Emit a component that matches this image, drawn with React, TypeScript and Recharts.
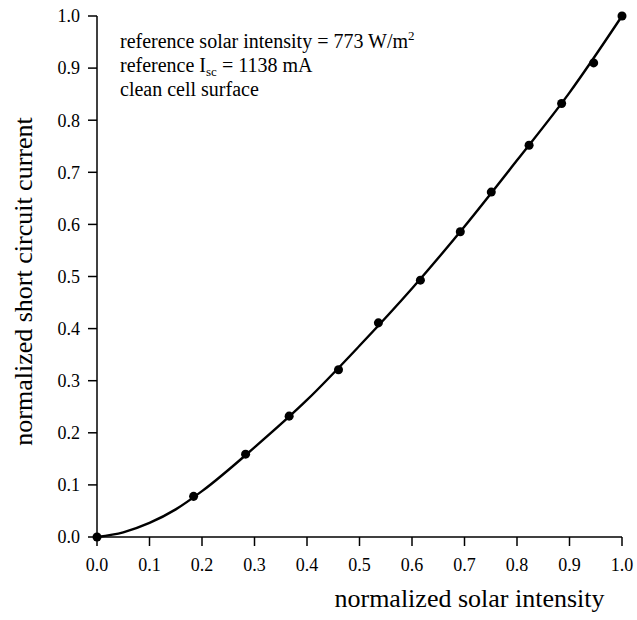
import { ComposedChart, Line, Scatter, XAxis, YAxis, Label } from 'recharts';

// measured points (normalized intensity vs normalized Isc)
const intensity = [0, 0.184, 0.283, 0.366, 0.46, 0.536, 0.616, 0.692, 0.751, 0.823, 0.885, 0.946, 1.0];
const current = [0, 0.078, 0.159, 0.232, 0.321, 0.411, 0.493, 0.586, 0.662, 0.752, 0.832, 0.91, 1.0];

// fitted curve
const fitX = [0, 0.05, 0.1, 0.15, 0.2, 0.3, 0.4, 0.5, 0.6, 0.7, 0.8, 0.9, 1.0];
const fitY = [0, 0.009, 0.027, 0.053, 0.088, 0.172, 0.263, 0.367, 0.477, 0.596, 0.723, 0.853, 1.0];

const ticks = [0, 0.1, 0.2, 0.3, 0.4, 0.5, 0.6, 0.7, 0.8, 0.9, 1.0];

const points = intensity.map((x, i) => ({ x, y: current[i] }));
const fit = fitX.map((x, i) => ({ x, y: fitY[i] }));

const FONT = '"Liberation Serif", "Times New Roman", serif';
const fmt = (v: number) => v.toFixed(1);

export default function App() {
  return (
    <div style={{ position: 'absolute', left: 0, top: 0, width: 637, height: 620, background: '#fff' }}>
      <ComposedChart width={637} height={620} margin={{ top: 16, right: 15, bottom: 0, left: 0 }}>
        <XAxis
          type="number"
          dataKey="x"
          domain={[0, 1]}
          ticks={ticks}
          tickFormatter={fmt}
          height={83}
          stroke="#000"
          strokeWidth={1.5}
          tickSize={9}
          tickMargin={12}
          tick={{ fill: '#000', fontSize: 18, fontFamily: FONT }}
        >
          <Label
            content={({ viewBox }: any) => (
              <text x={viewBox.x + viewBox.width / 2 + 110} y={607} textAnchor="middle"
                fontSize={26} fontFamily={FONT} fill="#000">
                normalized solar intensity
              </text>
            )}
          />
        </XAxis>
        <YAxis
          type="number"
          dataKey="y"
          domain={[0, 1]}
          ticks={ticks}
          tickFormatter={fmt}
          width={97}
          stroke="#000"
          strokeWidth={1.5}
          tickSize={9}
          tickMargin={8}
          tick={{ fill: '#000', fontSize: 18, fontFamily: FONT }}
        >
          <Label
            content={({ viewBox }: any) => {
              const cy = viewBox.y + viewBox.height / 2 + 5;
              return (
                <text x={32} y={cy} transform={`rotate(-90, 32, ${cy})`} textAnchor="middle"
                  fontSize={26} fontFamily={FONT} fill="#000">
                  normalized short circuit current
                </text>
              );
            }}
          />
        </YAxis>
        <Line data={fit} dataKey="y" type="monotone" stroke="#000" strokeWidth={2.4}
          dot={false} activeDot={false} isAnimationActive={false} />
        <Scatter data={points} dataKey="y" fill="#000" shape="circle" isAnimationActive={false} />
      </ComposedChart>
      <svg width={637} height={120} style={{ position: 'absolute', left: 0, top: 0, pointerEvents: 'none' }}>
        <g fontFamily={FONT} fontSize={20} fill="#000">
          <text x={120} y={48}>
            reference solar intensity = 773 W/m<tspan dy={-8} fontSize={13}>2</tspan>
          </text>
          <text x={120} y={72}>
            reference I<tspan dy={4} fontSize={13}>sc</tspan><tspan dy={-4}> = 1138 mA</tspan>
          </text>
          <text x={120} y={96}>clean cell surface</text>
        </g>
      </svg>
    </div>
  );
}
